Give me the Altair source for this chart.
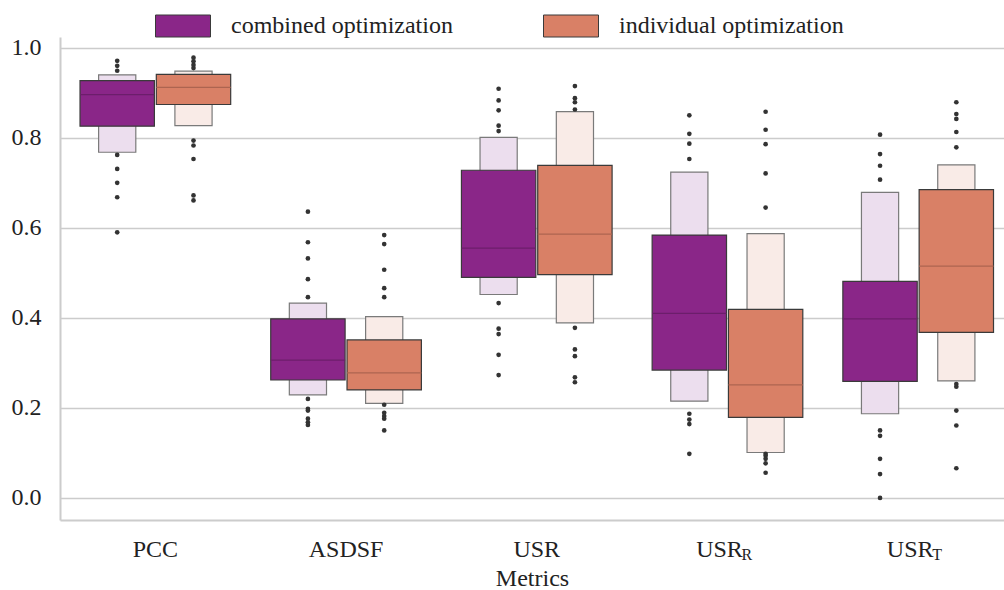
import altair as alt
import pandas as pd

# Metric categories (main text and subscript) and the two optimisation setups
metrics = ["PCC", "ASDSF", "USR", "USR_R", "USR_T"]
metric_main = ["PCC", "ASDSF", "USR", "USR", "USR"]
metric_sub = ["", "", "", "R", "T"]
setups = ["combined optimization", "individual optimization"]

# Letter values per metric: lower eighth, lower quartile, median, upper quartile, upper eighth
comb_lo8 = [0.768, 0.229, 0.452, 0.215, 0.187]
comb_q1 = [0.826, 0.262, 0.490, 0.284, 0.259]
comb_med = [0.896, 0.306, 0.555, 0.410, 0.398]
comb_q3 = [0.927, 0.398, 0.728, 0.584, 0.481]
comb_hi8 = [0.940, 0.433, 0.801, 0.724, 0.679]

ind_lo8 = [0.827, 0.210, 0.389, 0.101, 0.260]
ind_q1 = [0.874, 0.240, 0.496, 0.179, 0.368]
ind_med = [0.912, 0.278, 0.586, 0.251, 0.515]
ind_q3 = [0.941, 0.351, 0.739, 0.419, 0.685]
ind_hi8 = [0.948, 0.403, 0.858, 0.587, 0.740]

# Outlying observations per metric
comb_out = [
    [0.971, 0.960, 0.949, 0.762, 0.731, 0.700, 0.668, 0.590],
    [0.636, 0.568, 0.532, 0.486, 0.446, 0.220, 0.198, 0.194, 0.176, 0.168, 0.162],
    [0.909, 0.883, 0.861, 0.827, 0.815, 0.433, 0.376, 0.364, 0.318, 0.273],
    [0.850, 0.809, 0.787, 0.753, 0.187, 0.174, 0.164, 0.098],
    [0.807, 0.764, 0.738, 0.707, 0.150, 0.138, 0.087, 0.053, 0.0],
]
ind_out = [
    [0.978, 0.970, 0.962, 0.955, 0.794, 0.783, 0.753, 0.672, 0.661],
    [0.584, 0.564, 0.507, 0.466, 0.446, 0.207, 0.189, 0.182, 0.176, 0.150],
    [0.915, 0.888, 0.879, 0.863, 0.378, 0.330, 0.315, 0.268, 0.257],
    [0.858, 0.818, 0.786, 0.721, 0.645, 0.098, 0.094, 0.087, 0.077, 0.056],
    [0.879, 0.853, 0.842, 0.813, 0.779, 0.253, 0.247, 0.194, 0.161, 0.066],
]

FONT = "Liberation Serif"
FS = 24
TXT = "#222222"
DODGE = 0.2        # horizontal offset of each setup from the category centre
HALF_IN = 0.195    # half width of the quartile box
HALF_OUT = 0.0975  # half width of the eighth box

rows, outl = [], []
for k, name in enumerate(setups):
    lv = [comb_lo8, comb_q1, comb_med, comb_q3, comb_hi8] if k == 0 else \
         [ind_lo8, ind_q1, ind_med, ind_q3, ind_hi8]
    outs = comb_out if k == 0 else ind_out
    for i, m in enumerate(metrics):
        rows.append(dict(setup=name, idx=i, side=k,
                         lo8=lv[0][i], q1=lv[1][i], med=lv[2][i],
                         q3=lv[3][i], hi8=lv[4][i]))
        for v in outs[i]:
            outl.append(dict(setup=name, idx=i, side=k, value=v))

boxes = pd.DataFrame(rows)
points = pd.DataFrame(outl)
labels = pd.DataFrame({"idx": list(range(len(metrics))),
                       "main": metric_main, "sub": metric_sub})

xscale = alt.Scale(domain=[-0.5, 4.45], nice=False, zero=False)
yscale = alt.Scale(domain=[-0.049, 1.024], nice=False, zero=False)

colors = ["#8a2688", "#d98066"]
light = ["#ecdeee", "#f9ebe7"]
dark = ["#6c1e6b", "#ad6450"]

centre = f"datum.idx + (datum.side == 0 ? -{DODGE} : {DODGE})"

base = alt.Chart(boxes).transform_calculate(cx=centre)

outer = base.transform_calculate(
    xa=f"datum.cx - {HALF_OUT}", xb=f"datum.cx + {HALF_OUT}"
).mark_rect(stroke="#7a7a7a", strokeWidth=1.2).encode(
    x=alt.X("xa:Q", scale=xscale,
            axis=alt.Axis(labels=False, ticks=False, grid=False, domain=True,
                          domainColor="#cccccc", domainWidth=2,
                          title="Metrics", titleFont=FONT, titleFontSize=FS,
                          titleFontWeight="normal", titleColor=TXT,
                          titlePadding=46)),
    x2="xb:Q",
    y=alt.Y("lo8:Q", scale=yscale,
            axis=alt.Axis(values=[0, 0.2, 0.4, 0.6, 0.8, 1.0], format=".1f",
                          ticks=False, grid=True, gridColor="#cccccc",
                          gridWidth=1.6, domain=True, domainColor="#cccccc",
                          domainWidth=2, labelFont=FONT, labelFontSize=FS,
                          labelColor=TXT, labelPadding=19, title=None)),
    y2="hi8:Q",
    fill=alt.Fill("setup:N", scale=alt.Scale(domain=setups, range=light),
                  legend=None),
)

inner = base.transform_calculate(
    xa=f"datum.cx - {HALF_IN}", xb=f"datum.cx + {HALF_IN}"
).mark_rect(stroke="#3a3a3a", strokeWidth=1.2).encode(
    x=alt.X("xa:Q", scale=xscale),
    x2="xb:Q",
    y=alt.Y("q1:Q", scale=yscale),
    y2="q3:Q",
    color=alt.Color(
        "setup:N", scale=alt.Scale(domain=setups, range=colors),
        legend=alt.Legend(
            title=None, orient="none", direction="horizontal",
            legendX=111, legendY=-23, padding=0,
            symbolType="M-2.5,-1H2.5V1H-2.5Z", symbolSize=484,
            symbolStrokeColor="#3a3a3a", symbolStrokeWidth=1,
            symbolOpacity=1, labelFont=FONT, labelFontSize=FS,
            labelColor=TXT, labelOffset=36, labelLimit=0,
            columnPadding=88,
        ),
    ),
)

median = base.transform_calculate(
    xa=f"datum.cx - {HALF_IN}", xb=f"datum.cx + {HALF_IN}"
).mark_rule(strokeWidth=1.3).encode(
    x=alt.X("xa:Q", scale=xscale),
    x2="xb:Q",
    y=alt.Y("med:Q", scale=yscale),
    stroke=alt.Stroke("setup:N", scale=alt.Scale(domain=setups, range=dark),
                      legend=None),
)

dots = alt.Chart(points).transform_calculate(
    cx=centre
).mark_circle(size=22, color="#333333", opacity=1).encode(
    x=alt.X("cx:Q", scale=xscale),
    y=alt.Y("value:Q", scale=yscale),
)

# category labels: plain ones centred, subscripted ones shifted left
plain_lbl = alt.Chart(labels).transform_filter("datum.sub == ''").mark_text(
    font=FONT, fontSize=FS, color=TXT, baseline="middle", align="center"
).encode(
    x=alt.X("idx:Q", scale=xscale),
    y=alt.value(513),
    text="main:N",
)

sub_main_lbl = alt.Chart(labels).transform_filter("datum.sub != ''").mark_text(
    font=FONT, fontSize=FS, color=TXT, baseline="middle", align="center", dx=-8
).encode(
    x=alt.X("idx:Q", scale=xscale),
    y=alt.value(513),
    text="main:N",
)

sub_lbl = alt.Chart(labels).transform_filter("datum.sub != ''").mark_text(
    font=FONT, fontSize=16, color=TXT, baseline="middle", align="left",
    dx=14, dy=5,
).encode(
    x=alt.X("idx:Q", scale=xscale),
    y=alt.value(513),
    text="sub:N",
)

chart = alt.layer(outer, inner, median, dots, plain_lbl, sub_main_lbl,
                  sub_lbl).resolve_scale(
    fill="independent", color="independent", stroke="independent"
).properties(
    width=944, height=483,
    padding={"left": 60, "top": 37, "right": 0, "bottom": 70},
    autosize=alt.AutoSizeParams(type="none"),
    background="white",
).configure_view(stroke=None)

chart.save("out.html", embed_options={"renderer": "svg", "actions": False})
